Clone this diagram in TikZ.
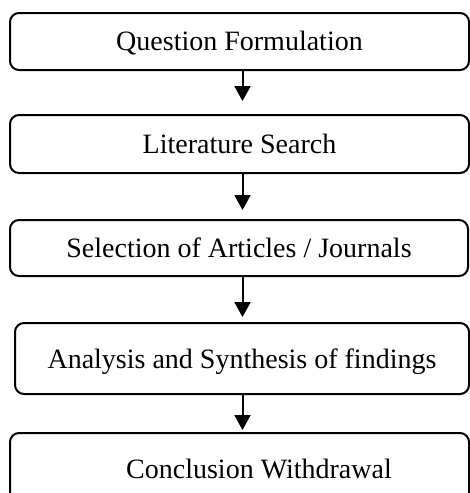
\documentclass[tikz,border=0pt]{standalone}
\usepackage{fontspec}
\setmainfont{Liberation Serif}
\usetikzlibrary{arrows.meta}
\begin{document}
\begin{tikzpicture}[x=1pt,y=-1pt,
  stepbox/.style={draw=black,line width=2pt,rounded corners=9pt,inner sep=0pt,
    text height=19pt,text depth=0pt,font=\fontsize{28}{32}\selectfont},
  arr/.style={line width=2pt,-{Triangle[width=16pt,length=15pt]}},
  lbl/.style={inner sep=0pt,font=\fontsize{28}{32}\selectfont}]
\useasboundingbox (0,0) rectangle (470,493);
\clip (0,0) rectangle (470,493);
\fill[white] (0,0) rectangle (470,493);
\node[stepbox,minimum width=459pt,minimum height=57pt,text depth=2pt] (b1) at (239.5,41.5) {Question Formulation};
\node[stepbox,minimum width=459pt,minimum height=58pt] (b2) at (239.5,144) {Literature Search};
\node[stepbox,minimum width=458pt,minimum height=56pt] (b3) at (239,248) {Selection of Articles / Journals};
\node[stepbox,minimum width=454pt,minimum height=71pt,text depth=-4pt] (b4) at (242,358.5) {Analysis and Synthesis of findings};
\node[stepbox,minimum width=459pt,minimum height=90pt] (b5) at (239.5,478) {};
\node[lbl,anchor=base] (t5) at (259,478) {Conclusion Withdrawal};
\coordinate (ax) at (242.5,0);
\draw[arr] (b1.south -| ax) -- ([yshift=13pt]b2.north -| ax);
\draw[arr] (b2.south -| ax) -- ([yshift=9pt]b3.north -| ax);
\draw[arr] (b3.south -| ax) -- ([yshift=5pt]b4.north -| ax);
\draw[arr] (b4.south -| ax) -- ([yshift=2pt]b5.north -| ax);
\end{tikzpicture}
\end{document}
